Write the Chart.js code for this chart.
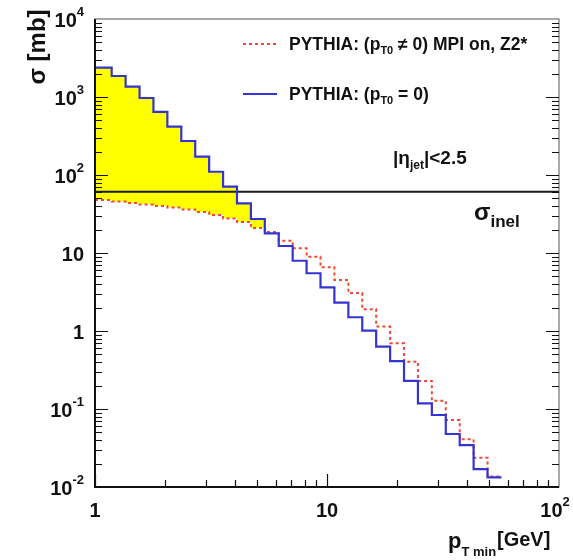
<!DOCTYPE html>
<html>
<head>
<meta charset="utf-8">
<script src="https://cdn.jsdelivr.net/npm/chart.js@4.4.1/dist/chart.umd.min.js"></script>
<style>
html,body{margin:0;padding:0;background:#fff;}
</style>
</head>
<body>
<canvas id="c" width="573" height="560"></canvas>
<script>
// bin edges in pT_min [GeV] (log-uniform bins)
const binEdges = [1.0, 1.180, 1.355, 1.556, 1.786, 2.051, 2.355, 2.704, 3.105, 3.565,
    4.093, 4.699, 5.395, 6.194, 7.112, 8.166, 9.376, 10.76, 12.36, 14.19,
    16.29, 18.71, 21.48, 24.66, 28.31, 32.51, 37.33, 42.85, 49.20, 56.49];
// PYTHIA (pT0 = 0), sigma in mb per bin
const sigmaNoMPI = [2375, 1858, 1355, 971, 643, 416, 273, 172, 110, 70.8,
    43.4, 27.3, 17.9, 12.3, 7.96, 5.50, 3.63, 2.31, 1.50, 1.01,
    0.630, 0.412, 0.229, 0.118, 0.0838, 0.0478, 0.0345, 0.0169, 0.0133];
// PYTHIA (pT0 != 0) MPI on, Z2*
const sigmaMPI = [47.8, 45.7, 43.8, 41.9, 40.0, 38.3, 36.1, 33.5, 30.7, 27.7,
    24.9, 20.9, 18.6, 14.4, 11.5, 8.97, 6.56, 4.51, 3.07, 1.90,
    1.14, 0.695, 0.404, 0.229, 0.128, 0.0723, 0.0409, 0.0238, 0.0136];
const sigmaInel = 61;
const xRange = [1, 100];
const yRange = [0.01, 10000];
const xTickLabels = [[1, '1', ''], [10, '10', ''], [100, '10', '2']];
const yTickLabels = [[0.01, '10', '-2'], [0.1, '10', '-1'], [1, '1', ''], [10, '10', ''],
    [100, '10', '2'], [1000, '10', '3'], [10000, '10', '4']];

function histPoints(edges, vals){
    var pts = vals.map((v,i)=>({x: edges[i], y: v}));
    pts.push({x: edges[edges.length-1], y: vals[vals.length-1]});
    return pts;
}

const FONT = '"Liberation Sans", Arial, sans-serif';

function drawPow(ctx, base, sup, x, y, size, align){
    ctx.font = 'bold ' + size + 'px ' + FONT;
    var bw = ctx.measureText(base).width;
    var ssize = Math.round(size*0.65);
    ctx.font = 'bold ' + ssize + 'px ' + FONT;
    var sw = sup ? ctx.measureText(sup).width : 0;
    var total = bw + sw;
    var x0 = align == 'right' ? x - total : x - total/2;
    ctx.textBaseline = 'middle';
    ctx.textAlign = 'left';
    ctx.font = 'bold ' + size + 'px ' + FONT;
    ctx.fillText(base, x0, y);
    if (sup){
        ctx.font = 'bold ' + ssize + 'px ' + FONT;
        ctx.fillText(sup, x0 + bw, y - size*0.42);
    }
}

// draws text pieces in a row: [text, size, dy]
function drawRow(ctx, pieces, x, y){
    ctx.textAlign = 'left';
    ctx.textBaseline = 'alphabetic';
    pieces.forEach(p=>{
        ctx.font = 'bold ' + p[1] + 'px ' + FONT;
        ctx.fillText(p[0], x, y + (p[2]||0));
        x += ctx.measureText(p[0]).width;
    });
}

const rootStyle = {
    id: 'rootStyle',
    afterDatasetsDraw(chart){
        var ctx = chart.ctx;
        var xs = chart.scales.x, ys = chart.scales.y;
        var a = chart.chartArea;
        ctx.save();
        ctx.fillStyle = '#111';
        ctx.strokeStyle = '#111';

        // frame
        ctx.lineWidth = 1;
        ctx.strokeStyle = '#555';
        ctx.strokeRect(a.left, a.top, a.right-a.left, a.bottom-a.top);
        ctx.strokeStyle = '#111';
        ctx.lineWidth = 2;
        ctx.beginPath();
        ctx.moveTo(a.left, a.top); ctx.lineTo(a.left, a.bottom); ctx.lineTo(a.right, a.bottom);
        ctx.stroke();

        // y ticks, left and right
        ctx.lineWidth = 1.2;
        ctx.beginPath();
        for (var d=-2; d<4; d++){
            for (var m=1; m<10; m++){
                var v = m*Math.pow(10,d);
                var py = Math.round(ys.getPixelForValue(v)) + 0.5;
                var len = m==1 ? 13 : 7;
                ctx.moveTo(a.left, py); ctx.lineTo(a.left+len, py);
                ctx.moveTo(a.right, py); ctx.lineTo(a.right-len, py);
            }
        }
        // x ticks, bottom
        for (var d=0; d<2; d++){
            for (var m=1; m<10; m++){
                var v = m*Math.pow(10,d);
                var px = Math.round(xs.getPixelForValue(v)) + 0.5;
                var len = m==1 ? 13 : 7;
                ctx.moveTo(px, a.bottom); ctx.lineTo(px, a.bottom-len);
            }
        }
        ctx.stroke();

        // tick labels
        yTickLabels.forEach(t=>{
            drawPow(ctx, t[1], t[2], 84, ys.getPixelForValue(t[0])+2, 20, 'right');
        });
        xTickLabels.forEach(t=>{
            var px = xs.getPixelForValue(t[0]);
            if (t[0]==100) px -= 4;
            drawPow(ctx, t[1], t[2], px, 511, 20, 'center');
        });

        // axis titles
        ctx.save();
        ctx.translate(38, 47);
        ctx.rotate(-Math.PI/2);
        ctx.font = 'bold 24px ' + FONT;
        ctx.textAlign = 'center';
        ctx.textBaseline = 'middle';
        ctx.fillText('\u03c3 [mb]', 0, 0);
        ctx.restore();
        drawRow(ctx, [['p', 22, 0], ['T min', 13, 8]], 448, 548);
        drawRow(ctx, [['[GeV]', 20, 0]], 497, 546);

        // legend
        ctx.lineWidth = 2;
        ctx.strokeStyle = '#ee4646';
        ctx.setLineDash([3,3]);
        ctx.beginPath(); ctx.moveTo(243, 44); ctx.lineTo(277, 44); ctx.stroke();
        ctx.setLineDash([]);
        ctx.strokeStyle = '#3434d2';
        ctx.beginPath(); ctx.moveTo(243, 94); ctx.lineTo(277, 94); ctx.stroke();
        ctx.fillStyle = '#111';
        drawRow(ctx, [['PYTHIA: (p', 17.5, 0], ['T0', 11, 4], [' \u2260 0) MPI on, Z2*', 17.5, 0]], 289, 50);
        drawRow(ctx, [['PYTHIA: (p', 17.5, 0], ['T0', 11, 4], [' = 0)', 17.5, 0]], 289, 100);

        // annotations
        drawRow(ctx, [['|\u03b7', 19, 0], ['jet', 12, 5], ['|<2.5', 19, 0]], 393, 164);
        drawRow(ctx, [['\u03c3', 24, 0], ['inel', 17, 7], ], 474, 220);
        ctx.restore();
    }
};

new Chart(document.getElementById('c'), {
    type: 'line',
    data: {
        datasets: [
            {
                label: 'PYTHIA: (pT0 = 0)',
                data: histPoints(binEdges, sigmaNoMPI),
                stepped: true,
                borderColor: '#3434d2',
                borderWidth: 2.2,
                pointRadius: 0,
                fill: {target: 1, above: '#ffff00', below: 'rgba(0,0,0,0)'}
            },
            {
                label: 'PYTHIA: (pT0 != 0) MPI on, Z2*',
                data: histPoints(binEdges, sigmaMPI),
                stepped: true,
                borderColor: '#ee4646',
                borderDash: [3,3],
                borderWidth: 2,
                pointRadius: 0,
                fill: false
            },
            {
                label: 'sigma inel',
                data: [{x: xRange[0], y: sigmaInel}, {x: xRange[1], y: sigmaInel}],
                borderColor: '#1a1a1a',
                borderWidth: 2,
                pointRadius: 0,
                fill: false
            }
        ]
    },
    options: {
        responsive: false,
        animation: false,
        devicePixelRatio: 1,
        layout: {padding: {left: 95, right: 14, top: 19, bottom: 73}},
        scales: {
            x: {type: 'logarithmic', min: xRange[0], max: xRange[1], display: false},
            y: {type: 'logarithmic', min: yRange[0], max: yRange[1], display: false}
        },
        plugins: {
            legend: {display: false},
            tooltip: {enabled: false},
            filler: {drawTime: 'beforeDatasetsDraw'}
        }
    },
    plugins: [rootStyle]
});
</script>
</body>
</html>
